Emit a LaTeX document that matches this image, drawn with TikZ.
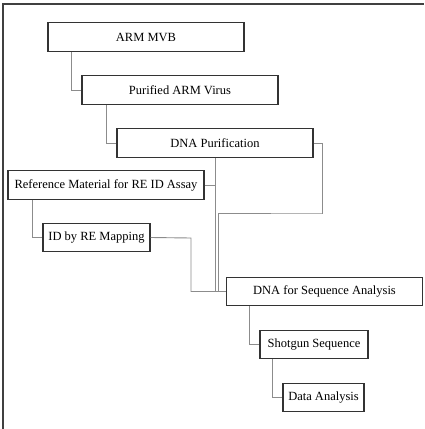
\documentclass[tikz,border=0pt]{standalone}
\usepackage{fontspec}
\setmainfont{Liberation Serif}
\usetikzlibrary{calc}
\begin{document}
\begin{tikzpicture}[x=1pt,y=-1pt,
  box/.style={draw=black!80,line width=1.2pt,fill=white,rectangle,inner sep=0pt,
    minimum height=28.5pt,font=\fontsize{12.5}{14}\selectfont},
  conn/.style={draw=black!45,line width=0.9pt},
  frame/.style={draw=black!75,line width=1.6pt}]
\useasboundingbox (0,0) rectangle (424,429);
\draw[frame] (3,429) -- (3,4) -- (424,4);
\node[box,minimum width=196pt] (mvb) at (146,37) {ARM MVB};
\node[box,minimum width=196pt] (pav) at (180,90) {Purified ARM Virus};
\node[box,minimum width=196pt] (dnap) at (215,143) {DNA Purification};
\node[box,minimum width=196pt] (ref) at (106,185) {Reference Material for RE ID Assay};
\node[box,minimum width=107pt] (id) at (96.5,237.5) {ID by RE Mapping};
\node[box,minimum width=196pt] (dnas) at (324.5,291.5) {DNA for Sequence Analysis};
\node[box,minimum width=108pt] (shot) at (314,344.5) {Shotgun Sequence};
\node[box,minimum width=81pt] (data) at (323.5,397.5) {Data Analysis};
\coordinate (loopa) at ($(dnap.east)+(9,0)$);
\coordinate (loopb) at (322,213);
\coordinate (loopc) at (218,213);
\coordinate (idj) at (191,238);
\begin{scope}[on background layer/.try]
\end{scope}
\draw[conn] ($(mvb.south west)+(24,0)$) |- (pav.west);
\draw[conn] ($(pav.south west)+(25,0)$) |- (dnap.west);
\draw[conn] ($(ref.south west)+(25,0)$) |- (id.west);
\draw[conn] ($(dnas.south west)+(24,0)$) |- (shot.west);
\draw[conn] ($(shot.south west)+(13,0)$) |- (data.west);
\draw[conn] (dnap.south) |- (dnas.west);
\draw[conn] (ref.east) -- (ref.east -| dnap.south);
\draw[conn] (dnap.east) -- (loopa) |- (loopb) -- (loopc) |- (dnas.west);
\draw[conn] (id.east) -- (idj) |- (dnas.west);
\end{tikzpicture}
\end{document}
